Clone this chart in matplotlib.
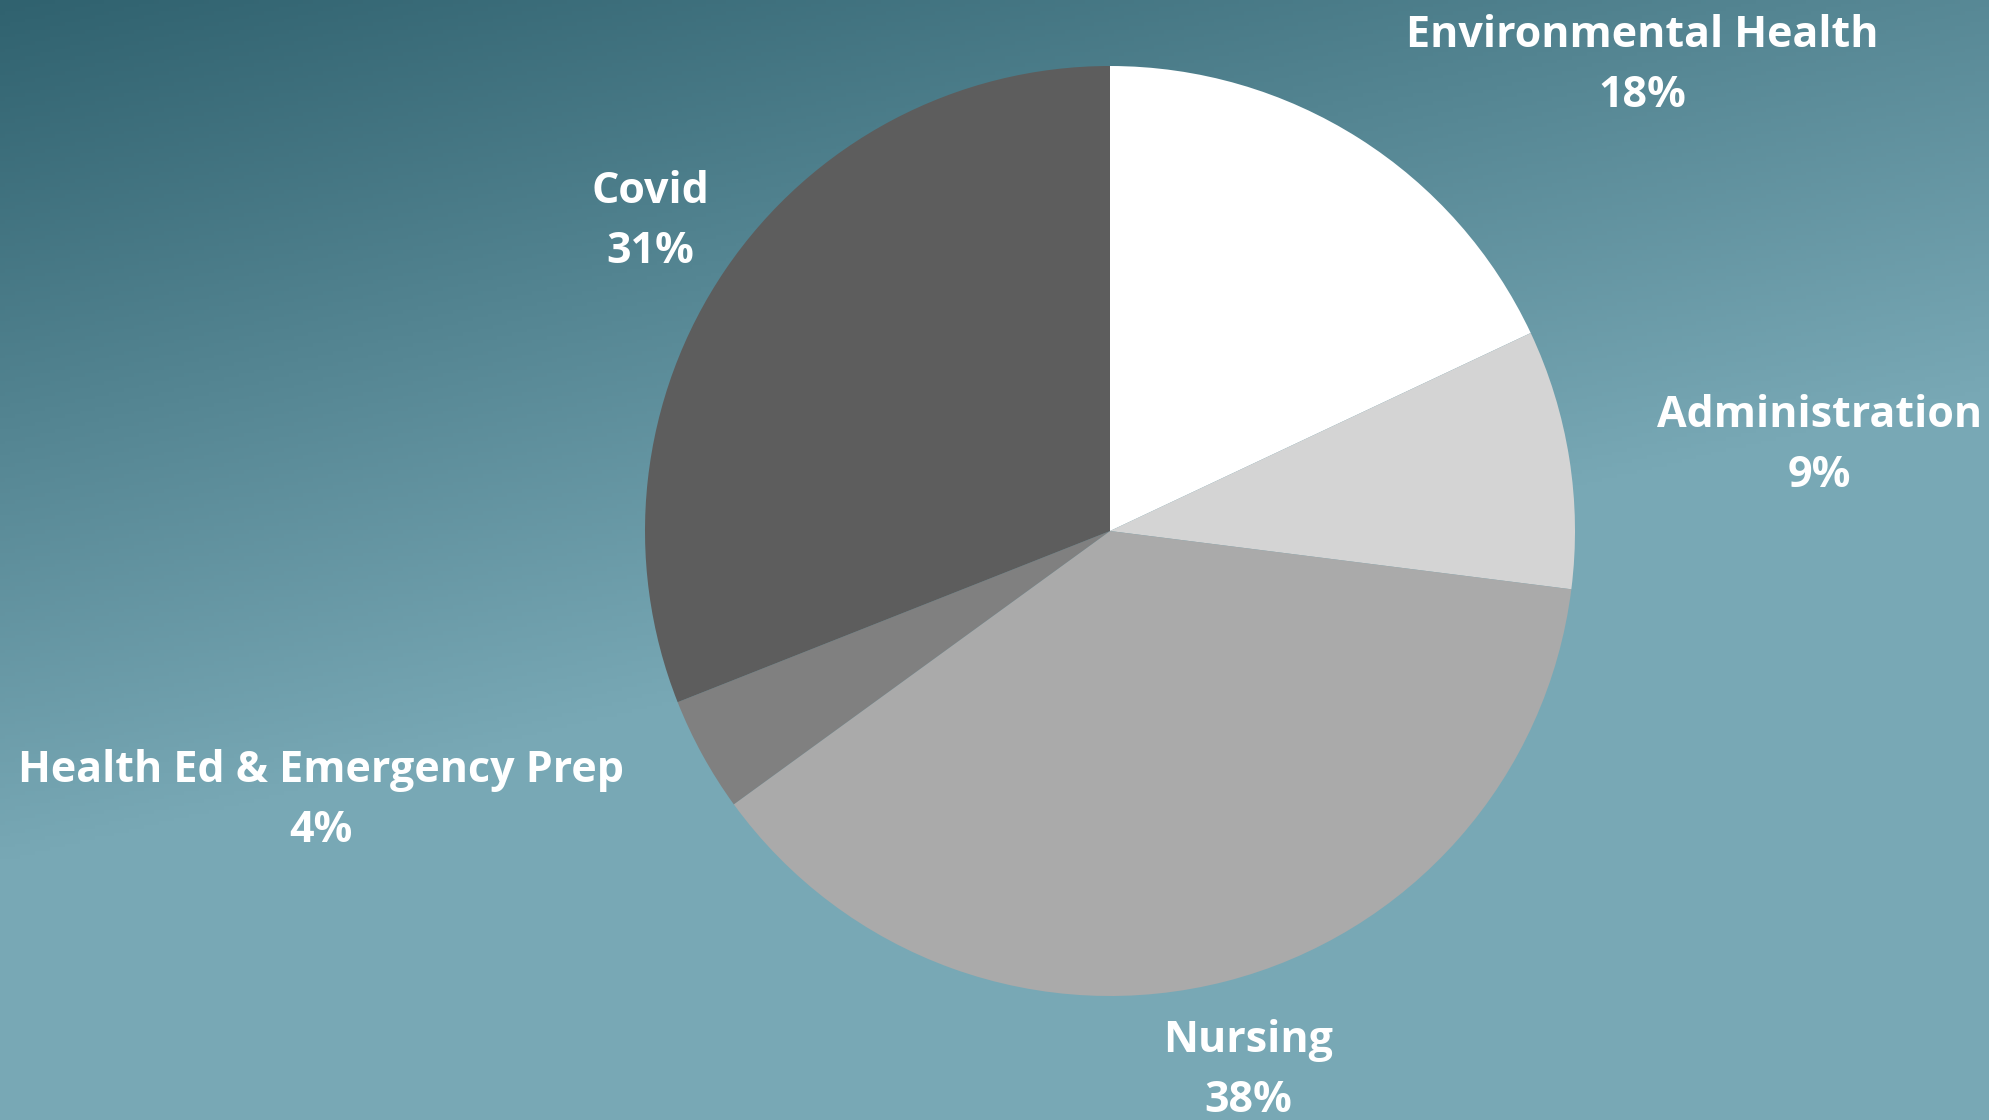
import matplotlib.pyplot as plt
import numpy as np

# data
labels = ['Environmental Health', 'Administration', 'Nursing',
          'Health Ed & Emergency Prep', 'Covid']
shares = [18, 9, 38, 4, 31]
colors = ['#ffffff', '#d4d4d4', '#aaaaaa', '#808080', '#5d5d5d']

# where each label sits (pie data coords, baseline of the name line)
label_pos = [(1.144, 1.041), (1.525, 0.223), (0.297, -1.121),
             (-1.697, -0.540), (-0.989, 0.705)]

W, H = 1990, 1120
fig = plt.figure(figsize=(W / 100, H / 100), dpi=100)

# background gradient, dark top-left to light teal
bg = fig.add_axes([0, 0, 1, 1])
u = np.linspace(0, 1, 400)[None, :]
v = np.linspace(0, 1, 300)[:, None]
t = np.clip(0.55 * u + 1.3 * v, 0, 1)
dark = np.array([0x30, 0x62, 0x6f]) / 255
light = np.array([0x78, 0xa8, 0xb5]) / 255
img = dark + (light - dark) * t[..., None]
bg.imshow(img, aspect='auto', extent=[0, 1, 0, 1], origin='upper')
bg.axis('off')

cx, cy, r = 1110, 531, 465
ax = fig.add_axes([(cx - r) / W, (H - cy - r) / H, 2 * r / W, 2 * r / H])
ax.pie(shares, colors=colors, startangle=90, counterclock=False,
       wedgeprops=dict(linewidth=0))
ax.set_xlim(-1, 1)
ax.set_ylim(-1, 1)
ax.set_aspect('equal')
ax.axis('off')

font = dict(family=['Open Sans', 'DejaVu Sans'], weight='bold', size=31,
            color='white', ha='center', va='baseline')
for name, pct, (x, y) in zip(labels, shares, label_pos):
    ax.text(x, y, name, **font)
    ax.text(x, y - 0.129, f'{pct}%', **font)

fig.savefig('out.png', dpi=100)
